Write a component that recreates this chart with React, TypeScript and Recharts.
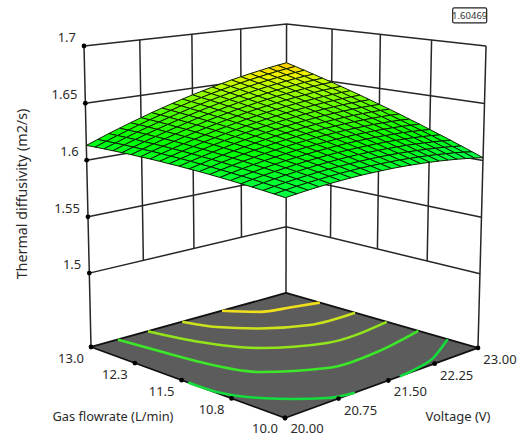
import React from 'react'
import { ScatterChart, Scatter, XAxis, YAxis } from 'recharts'

const WIDTH = 519
const HEIGHT = 436
const FONT = '"Noto Sans", sans-serif'

const gasTicks = [10, 10.75, 11.5, 12.25, 13]
const gasLabels = ['10.0', '10.8', '11.5', '12.3', '13.0']
const voltTicks = [20, 20.75, 21.5, 22.25, 23]
const voltLabels = ['20.00', '20.75', '21.50', '22.25', '23.00']
const zTicks = [1.5, 1.55, 1.6, 1.65, 1.7]
const zLabels = ['1.5', '1.55', '1.6', '1.65', '1.7']
const Z_FLOOR = 1.434
const CURRENT_VALUE = '1.60469'

const zGrid = [
  [1.6060, 1.6070, 1.6079, 1.6087, 1.6093, 1.6098, 1.6102, 1.6105, 1.6106, 1.6106, 1.6105, 1.6103, 1.6099, 1.6094, 1.6088, 1.6081, 1.6072, 1.6062, 1.6051, 1.6039, 1.6025],
  [1.6069, 1.6080, 1.6091, 1.6100, 1.6107, 1.6114, 1.6119, 1.6123, 1.6126, 1.6127, 1.6127, 1.6126, 1.6124, 1.6120, 1.6115, 1.6109, 1.6102, 1.6093, 1.6084, 1.6073, 1.6060],
  [1.6077, 1.6090, 1.6102, 1.6112, 1.6121, 1.6129, 1.6135, 1.6140, 1.6144, 1.6147, 1.6149, 1.6149, 1.6148, 1.6146, 1.6142, 1.6137, 1.6131, 1.6124, 1.6116, 1.6106, 1.6095],
  [1.6085, 1.6099, 1.6112, 1.6124, 1.6134, 1.6143, 1.6151, 1.6157, 1.6163, 1.6167, 1.6170, 1.6171, 1.6171, 1.6170, 1.6168, 1.6165, 1.6160, 1.6154, 1.6147, 1.6139, 1.6129],
  [1.6092, 1.6108, 1.6122, 1.6135, 1.6146, 1.6157, 1.6166, 1.6174, 1.6180, 1.6186, 1.6190, 1.6193, 1.6194, 1.6195, 1.6194, 1.6192, 1.6188, 1.6184, 1.6178, 1.6171, 1.6162],
  [1.6099, 1.6116, 1.6131, 1.6145, 1.6158, 1.6170, 1.6180, 1.6190, 1.6198, 1.6204, 1.6210, 1.6214, 1.6217, 1.6219, 1.6219, 1.6218, 1.6216, 1.6213, 1.6208, 1.6202, 1.6195],
  [1.6105, 1.6123, 1.6140, 1.6155, 1.6170, 1.6183, 1.6194, 1.6205, 1.6214, 1.6222, 1.6229, 1.6234, 1.6239, 1.6242, 1.6243, 1.6244, 1.6243, 1.6241, 1.6238, 1.6233, 1.6228],
  [1.6111, 1.6130, 1.6148, 1.6165, 1.6180, 1.6195, 1.6208, 1.6220, 1.6230, 1.6239, 1.6248, 1.6254, 1.6260, 1.6264, 1.6267, 1.6269, 1.6270, 1.6269, 1.6267, 1.6264, 1.6259],
  [1.6116, 1.6136, 1.6156, 1.6174, 1.6191, 1.6206, 1.6221, 1.6234, 1.6246, 1.6256, 1.6266, 1.6274, 1.6281, 1.6286, 1.6291, 1.6294, 1.6296, 1.6296, 1.6296, 1.6294, 1.6291],
  [1.6120, 1.6142, 1.6163, 1.6182, 1.6200, 1.6217, 1.6233, 1.6247, 1.6261, 1.6272, 1.6283, 1.6293, 1.6301, 1.6308, 1.6313, 1.6318, 1.6321, 1.6323, 1.6324, 1.6323, 1.6321],
  [1.6124, 1.6147, 1.6169, 1.6190, 1.6209, 1.6228, 1.6245, 1.6260, 1.6275, 1.6288, 1.6300, 1.6311, 1.6320, 1.6329, 1.6336, 1.6341, 1.6346, 1.6349, 1.6351, 1.6352, 1.6351],
  [1.6127, 1.6152, 1.6175, 1.6197, 1.6218, 1.6237, 1.6256, 1.6273, 1.6289, 1.6303, 1.6316, 1.6328, 1.6339, 1.6349, 1.6357, 1.6364, 1.6370, 1.6375, 1.6378, 1.6380, 1.6381],
  [1.6130, 1.6155, 1.6180, 1.6203, 1.6226, 1.6246, 1.6266, 1.6284, 1.6302, 1.6317, 1.6332, 1.6345, 1.6358, 1.6368, 1.6378, 1.6386, 1.6394, 1.6399, 1.6404, 1.6407, 1.6410],
  [1.6132, 1.6159, 1.6185, 1.6210, 1.6233, 1.6255, 1.6276, 1.6296, 1.6314, 1.6331, 1.6347, 1.6362, 1.6375, 1.6388, 1.6399, 1.6408, 1.6417, 1.6424, 1.6430, 1.6435, 1.6438],
  [1.6133, 1.6162, 1.6189, 1.6215, 1.6240, 1.6263, 1.6286, 1.6306, 1.6326, 1.6345, 1.6362, 1.6378, 1.6393, 1.6406, 1.6419, 1.6429, 1.6439, 1.6448, 1.6455, 1.6461, 1.6466],
  [1.6134, 1.6164, 1.6193, 1.6220, 1.6246, 1.6271, 1.6294, 1.6317, 1.6338, 1.6357, 1.6376, 1.6393, 1.6409, 1.6424, 1.6438, 1.6450, 1.6461, 1.6471, 1.6480, 1.6487, 1.6493],
  [1.6134, 1.6165, 1.6195, 1.6224, 1.6251, 1.6277, 1.6302, 1.6326, 1.6348, 1.6369, 1.6389, 1.6408, 1.6425, 1.6441, 1.6456, 1.6470, 1.6482, 1.6493, 1.6503, 1.6512, 1.6519],
  [1.6134, 1.6167, 1.6198, 1.6228, 1.6256, 1.6284, 1.6310, 1.6335, 1.6359, 1.6381, 1.6402, 1.6422, 1.6441, 1.6458, 1.6475, 1.6490, 1.6503, 1.6516, 1.6527, 1.6537, 1.6545],
  [1.6133, 1.6167, 1.6200, 1.6231, 1.6261, 1.6290, 1.6317, 1.6343, 1.6368, 1.6392, 1.6415, 1.6436, 1.6456, 1.6475, 1.6492, 1.6508, 1.6523, 1.6537, 1.6550, 1.6561, 1.6571],
  [1.6132, 1.6167, 1.6201, 1.6233, 1.6265, 1.6295, 1.6324, 1.6351, 1.6378, 1.6403, 1.6426, 1.6449, 1.6470, 1.6490, 1.6509, 1.6527, 1.6543, 1.6558, 1.6572, 1.6584, 1.6596],
  [1.6130, 1.6166, 1.6202, 1.6235, 1.6268, 1.6299, 1.6330, 1.6358, 1.6386, 1.6412, 1.6438, 1.6461, 1.6484, 1.6505, 1.6526, 1.6544, 1.6562, 1.6578, 1.6594, 1.6607, 1.6620],
]

// floor contours, gas flowrate and voltage along each line, left to right on screen
const contourGas = [
  [11.4, 10.99, 10.56, 10.31, 10.09, 10.0],
  [10.0, 10.04, 10.13, 10.43],
  [13, 12.27, 11.79, 11.12, 10.71, 10.69, 10.86],
  [13, 12.3, 11.68, 11.29, 11.34],
  [13, 12.57, 12.19, 11.88, 11.84],
  [13, 12.65, 12.52, 12.42],
]
const contourVolt = [
  [20, 20.02, 20.21, 20.42, 20.68, 20.99],
  [21.68, 22.01, 22.38, 23],
  [20.37, 20.45, 20.51, 20.74, 21.33, 22.1, 23],
  [20.8, 20.96, 21.29, 21.94, 23],
  [21.31, 21.46, 21.77, 22.27, 23],
  [21.93, 22.22, 22.64, 23],
]
const contourColors = ['#14dc3c', '#14dc3c', '#3ce628', '#94e41c', '#cce21c', '#f0e01c']

// camera fitted to the box corners in the picture
function project(gas: number, volt: number, z: number) {
  const u = (gas - 10) / 3
  const v = (volt - 20) / 3
  const r = (z - Z_FLOOR) / (1.7 - Z_FLOOR)
  // the z ticks are evenly spaced on screen, this undoes the perspective along z
  const t = r + 0.024 * r * (1 - r)
  const w = 1 + 0.1404 * u + 0.153 * v - 0.043 * t
  return {
    x: (285 - 181.2 * u + 266.1 * v - 11.6 * t) / w,
    y: (418 - 22.3 * u - 16.8 * v + (-346.4 + 1.2 * u - 3.7 * v) * t) / w,
  }
}

const COLOR_STOPS: [number, number[]][] = [
  [1.606, [0, 255, 70]],
  [1.62, [0, 255, 0]],
  [1.631, [60, 255, 0]],
  [1.642, [130, 255, 0]],
  [1.65, [190, 250, 0]],
  [1.655, [240, 240, 0]],
  [1.662, [255, 195, 0]],
]

function surfaceColor(z: number) {
  for (let i = 1; i < COLOR_STOPS.length; i++) {
    const [z1, c1] = COLOR_STOPS[i]
    const [z0, c0] = COLOR_STOPS[i - 1]
    if (z <= z1) {
      const f = Math.max(0, (z - z0) / (z1 - z0))
      return `rgb(${c0.map((c, k) => Math.round(c + (c1[k] - c) * f)).join(',')})`
    }
  }
  return 'rgb(255,195,0)'
}

function polygonPoint(corners: { x: number; y: number }[], fill: string, stroke: string, strokeWidth: number) {
  return {
    x: corners.reduce((s, c) => s + c.x, 0) / corners.length,
    y: corners.reduce((s, c) => s + c.y, 0) / corners.length,
    corners,
    fill,
    stroke,
    strokeWidth,
  }
}

const gasStep = 3 / (zGrid.length - 1)
const voltStep = 3 / (zGrid[0].length - 1)
const surfaceCells: ReturnType<typeof polygonPoint>[] = []
for (let i = zGrid.length - 2; i >= 0; i--) {
  for (let j = zGrid[i].length - 2; j >= 0; j--) {
    const g0 = 10 + i * gasStep
    const g1 = g0 + gasStep
    const v0 = 20 + j * voltStep
    const v1 = v0 + voltStep
    const mean = (zGrid[i][j] + zGrid[i + 1][j] + zGrid[i][j + 1] + zGrid[i + 1][j + 1]) / 4
    surfaceCells.push(
      polygonPoint(
        [
          project(g0, v0, zGrid[i][j]),
          project(g1, v0, zGrid[i + 1][j]),
          project(g1, v1, zGrid[i + 1][j + 1]),
          project(g0, v1, zGrid[i][j + 1]),
        ],
        surfaceColor(mean),
        '#0c2000',
        1,
      ),
    )
  }
}

const floor = [
  polygonPoint(
    [project(10, 20, Z_FLOOR), project(13, 20, Z_FLOOR), project(13, 23, Z_FLOOR), project(10, 23, Z_FLOOR)],
    '#5c5c5c',
    '#111',
    1.8,
  ),
]

const wallLines = [
  // horizontal rules on both back walls
  ...zTicks.map((z) => [project(13, 20, z), project(13, 23, z), project(10, 23, z)]),
  // corner posts run down to the floor
  [project(13, 20, Z_FLOOR), project(13, 20, 1.7)],
  [project(13, 23, Z_FLOOR), project(13, 23, 1.7)],
  [project(10, 23, Z_FLOOR), project(10, 23, 1.7)],
  // inner uprights stop at the lowest tick
  ...voltTicks.slice(1, -1).map((v) => [project(13, v, 1.5), project(13, v, 1.7)]),
  ...gasTicks.slice(1, -1).map((g) => [project(g, 23, 1.5), project(g, 23, 1.7)]),
]

const tickDots = [
  ...zTicks.map((z) => project(13, 20, z)),
  ...gasTicks.map((g) => project(g, 20, Z_FLOOR)),
  ...voltTicks.map((v) => project(10, v, Z_FLOOR)),
]

// the two labels at the front corner sit a little higher so they stay inside the page
const tickTexts = [
  ...zTicks.map((z, i) => ({ ...project(13, 20, z), text: zLabels[i], dx: -8, dy: -4, anchor: 'end' })),
  ...gasTicks.map((g, i) => ({ ...project(g, 20, Z_FLOOR), text: gasLabels[i], dx: -20, dy: i === 0 ? 14.5 : 16, anchor: 'middle' })),
  ...voltTicks.map((v, i) => ({ ...project(10, v, Z_FLOOR), text: voltLabels[i], dx: 22, dy: i === 0 ? 14.5 : 16, anchor: 'middle' })),
]

const titleTexts = [
  { x: 113, y: 421, text: 'Gas flowrate (L/min)', rotate: 0, size: 12.8 },
  { x: 458, y: 421, text: 'Voltage (V)', rotate: 0, size: 13 },
  { x: 27, y: 194, text: 'Thermal diffusivity (m2/s)', rotate: -90, size: 14.3 },
]

const PolygonShape = (props: any) => {
  const { cx, cy, payload } = props
  const dx = cx - payload.x
  const dy = cy - payload.y
  const points = payload.corners.map((c: any) => `${c.x + dx},${c.y + dy}`).join(' ')
  return (
    <polygon
      points={points}
      fill={payload.fill}
      stroke={payload.stroke}
      strokeWidth={payload.strokeWidth}
      strokeLinejoin="round"
    />
  )
}

const DotShape = (props: any) => <circle cx={props.cx} cy={props.cy} r={2.4} fill="#000" />

const TickText = (props: any) => {
  const { cx, cy, payload } = props
  return (
    <text x={cx + payload.dx} y={cy + payload.dy} textAnchor={payload.anchor} fontFamily={FONT} fontSize={13} fill="#2a2a2a">
      {payload.text}
    </text>
  )
}

const TitleText = (props: any) => {
  const { cx, cy, payload } = props
  return (
    <text
      x={cx}
      y={cy}
      textAnchor="middle"
      fontFamily={FONT}
      fontSize={payload.size}
      fill="#2a2a2a"
      transform={payload.rotate ? `rotate(${payload.rotate} ${cx} ${cy})` : undefined}
    >
      {payload.text}
    </text>
  )
}

const ValueBox = (props: any) => {
  const { cx, cy } = props
  return (
    <g>
      <rect x={cx - 17} y={cy - 7.5} width={34} height={15} rx={1.5} fill="#fff" stroke="#222" strokeWidth={1.2} />
      <text x={cx} y={cy + 3.5} textAnchor="middle" fontFamily={FONT} fontSize={9.5} fill="#333">
        {CURRENT_VALUE}
      </text>
    </g>
  )
}

const noShape = () => null

export default function App() {
  return (
    <div style={{ position: 'absolute', left: 0, top: 0, background: '#fff' }}>
      <ScatterChart width={WIDTH} height={HEIGHT} margin={{ top: 0, right: 0, bottom: 0, left: 0 }}>
        <XAxis type="number" dataKey="x" domain={[0, WIDTH]} hide />
        <YAxis type="number" dataKey="y" domain={[0, HEIGHT]} reversed hide />
        {wallLines.map((pts, i) => (
          <Scatter
            key={`wall-${i}`}
            data={pts}
            line={{ stroke: '#262626', strokeWidth: 1.5 }}
            lineType="joint"
            shape={noShape}
            isAnimationActive={false}
          />
        ))}
        <Scatter data={floor} shape={PolygonShape} isAnimationActive={false} />
        {contourGas.map((gas, i) => (
          <Scatter
            key={`contour-${i}`}
            data={gas.map((g, k) => project(g, contourVolt[i][k], Z_FLOOR))}
            line={{ stroke: contourColors[i], strokeWidth: 2.6 }}
            lineType="joint"
            lineJointType="monotoneX"
            shape={noShape}
            isAnimationActive={false}
          />
        ))}
        <Scatter data={surfaceCells} shape={PolygonShape} isAnimationActive={false} />
        <Scatter data={tickDots} shape={DotShape} isAnimationActive={false} />
        <Scatter data={tickTexts} shape={TickText} isAnimationActive={false} />
        <Scatter data={titleTexts} shape={TitleText} isAnimationActive={false} />
        <Scatter data={[{ x: 469.7, y: 15.4 }]} shape={ValueBox} isAnimationActive={false} />
      </ScatterChart>
    </div>
  )
}
